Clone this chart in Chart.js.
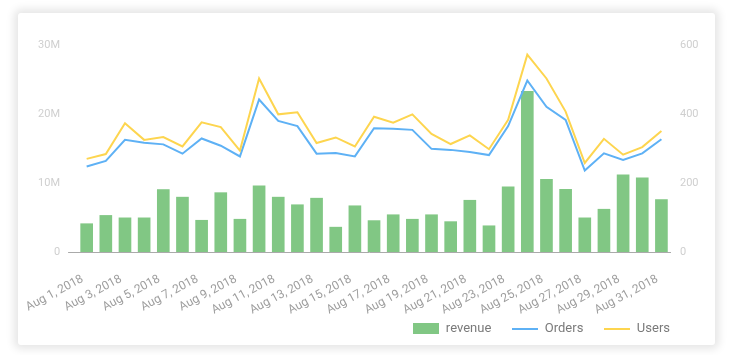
<!DOCTYPE html>
<html><head><meta charset="utf-8">
<script src="https://cdn.jsdelivr.net/npm/chart.js@4"></script>
<style>
html,body{margin:0;padding:0;background:#fff;width:733px;height:355px;overflow:hidden}
#card{position:absolute;left:18px;top:13px;width:697px;height:332px;background:#fff;border-radius:3px;box-shadow:0 0 8px 4px rgba(0,0,0,0.10)}
canvas{display:block}
</style></head><body>
<div id="card"><canvas id="c" width="697" height="332"></canvas></div>
<script>
const categories = ["Aug 1, 2018","Aug 2, 2018","Aug 3, 2018","Aug 4, 2018","Aug 5, 2018","Aug 6, 2018","Aug 7, 2018","Aug 8, 2018","Aug 9, 2018","Aug 10, 2018","Aug 11, 2018","Aug 12, 2018","Aug 13, 2018","Aug 14, 2018","Aug 15, 2018","Aug 16, 2018","Aug 17, 2018","Aug 18, 2018","Aug 19, 2018","Aug 20, 2018","Aug 21, 2018","Aug 22, 2018","Aug 23, 2018","Aug 24, 2018","Aug 25, 2018","Aug 26, 2018","Aug 27, 2018","Aug 28, 2018","Aug 29, 2018","Aug 30, 2018","Aug 31, 2018"];
const revenue = [4.1e6,5.3e6,4.95e6,4.95e6,9.05e6,7.95e6,4.6e6,8.6e6,4.75e6,9.6e6,7.95e6,6.85e6,7.8e6,3.6e6,6.7e6,4.55e6,5.4e6,4.75e6,5.4e6,4.4e6,7.5e6,3.8e6,9.45e6,23.3e6,10.55e6,9.1e6,4.95e6,6.2e6,11.2e6,10.75e6,7.6e6];
const orders = [248,264,325,317,312,285,329,308,277,442,380,365,285,287,277,359,357,354,299,296,290,281,365,497,421,383,236,286,267,286,327];
const users = [270,284,373,325,333,306,376,362,294,503,399,405,316,332,306,392,375,399,342,313,338,298,383,572,503,407,258,328,282,304,351];
const leftTicks = ["0","10M","20M","30M"];
const rightTicks = ["0","200","400","600"];

const GREEN = '#81C784', BLUE = '#5EB1F5', YELLOW = '#FDD54F';
function swatch(w,h,color){const c=document.createElement('canvas');c.width=w;c.height=h;const x=c.getContext('2d');x.fillStyle=color;x.fillRect(0,0,w,h);return c;}
const swatches = [swatch(26,11,GREEN), swatch(26,2,BLUE), swatch(26,2,YELLOW)];

const baseline = {
  id:'baseline',
  afterLayout(chart){
    if (chart.scales.x) { chart.scales.x.bottom += 30; }
  },
  beforeDraw(chart){
    if (chart.legend) { chart.legend.right = chart.width - 24; }
  },
  beforeDatasetsDraw(chart){
    const {ctx, chartArea, scales} = chart;
    const y = Math.round(scales.y.getPixelForValue(0)) + 0.5;
    ctx.save();
    ctx.strokeStyle = '#aaaaaa'; ctx.lineWidth = 1;
    ctx.beginPath(); ctx.moveTo(chartArea.left - 9, y); ctx.lineTo(chartArea.right, y); ctx.stroke();
    ctx.restore();
  }
};

new Chart(document.getElementById('c'), {
  data: {
    labels: categories,
    datasets: [
      {type:'bar', label:'revenue', data: revenue, backgroundColor: GREEN, barThickness: 12, yAxisID:'y', order: 2},
      {type:'line', label:'Orders', data: orders, borderColor: BLUE, backgroundColor: BLUE, borderWidth: 2, pointRadius: 0, tension: 0, yAxisID:'y1', order: 1},
      {type:'line', label:'Users', data: users, borderColor: YELLOW, backgroundColor: YELLOW, borderWidth: 2, pointRadius: 0, tension: 0, yAxisID:'y1', order: 0}
    ]
  },
  options: {
    responsive: false,
    animation: false,
    layout: {padding: {top: 32, right: 0, bottom: 0, left: 0}},
    plugins: {
      tooltip: {enabled: false},
      legend: {
        position: 'bottom', align: 'end',
        labels: {
          usePointStyle: true, pointStyleWidth: 26, padding: 21,
          color: '#7a7a7a', font: {family: 'Roboto', size: 13},
          generateLabels(chart){
            const items = Chart.defaults.plugins.legend.labels.generateLabels(chart);
            items.forEach(it => { it.pointStyle = swatches[it.datasetIndex]; it.lineWidth = 0; });
            items.sort((a,b) => a.datasetIndex - b.datasetIndex);
            return items;
          }
        }
      }
    },
    scales: {
      x: {
        grid: {display: false}, border: {display: false},
        ticks: {
          autoSkip: false, minRotation: 28, maxRotation: 28, padding: 12, labelOffset: -4,
          color: '#9e9e9e', font: {family: 'Roboto', size: 12},
          callback: (v,i) => i % 2 === 0 ? categories[i] : ''
        },
        afterFit(s){ s.height = 49; }
      },
      y: {
        position: 'left', min: 0, max: 30e6,
        grid: {display: false, drawTicks: false}, border: {display: false},
        ticks: {stepSize: 10e6, padding: 17, color: '#cfcfcf', font: {family: 'Roboto', size: 11},
          callback: (v,i) => leftTicks[i]},
        afterFit(s){ s.width = 56; }
      },
      y1: {
        position: 'right', min: 0, max: 600,
        grid: {display: false, drawTicks: false}, border: {display: false},
        ticks: {stepSize: 200, padding: 9, color: '#cfcfcf', font: {family: 'Roboto', size: 11},
          callback: (v,i) => rightTicks[i]},
        afterFit(s){ s.width = 44; }
      }
    }
  },
  plugins: [baseline]
});
</script>
</body></html>
